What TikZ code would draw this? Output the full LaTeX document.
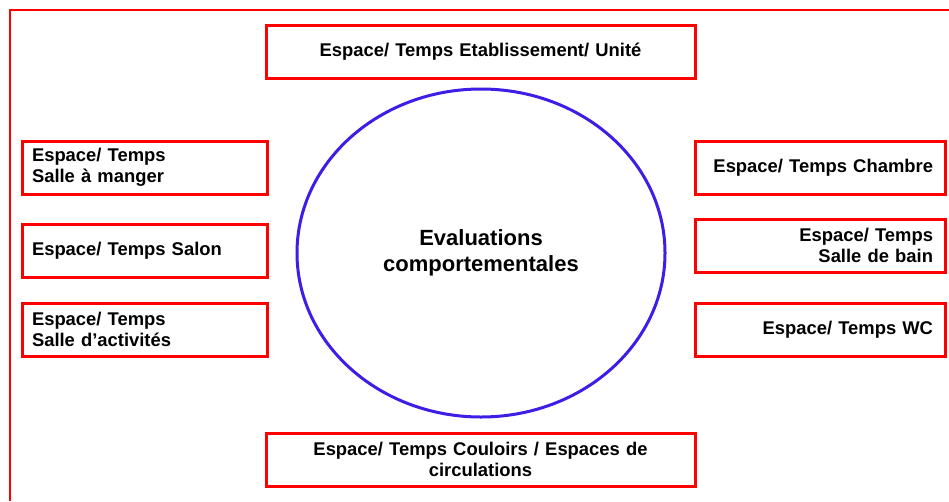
\documentclass[tikz,border=0pt]{standalone}
\usepackage{fontspec}
\setmainfont{Liberation Sans}
\usetikzlibrary{shapes.geometric}
\definecolor{boxred}{RGB}{255,0,0}
\definecolor{ellblue}{RGB}{60,30,230}
\begin{document}
\begin{tikzpicture}[x=1pt,y=-1pt,
  box/.style={draw=boxred,line width=3pt,rectangle,inner ysep=0pt,
    font=\fontsize{18.4}{20.5}\selectfont\bfseries},
  cbox/.style={box,minimum width=429pt,minimum height=53pt,text width=409pt,inner xsep=10pt,align=center},
  lbox/.style={box,minimum width=245pt,minimum height=53pt,text width=225pt,inner xsep=10pt,align=left},
  rbox/.style={box,minimum width=250pt,minimum height=53pt,text width=226pt,inner xsep=12pt,align=right},
  ell/.style={draw=ellblue,line width=3pt,ellipse,minimum width=368pt,minimum height=328pt,
    align=center,font=\fontsize{22}{26}\selectfont\bfseries}
]
\useasboundingbox (0,0) rectangle (949,501);
\coordinate (fbl) at (9.5,501);
\coordinate (ftl) at (9.5,10);
\coordinate (ftr) at (949,10);
\draw[boxred,line width=2pt] (fbl) -- (ftl) -- (ftr);

\node[ell] (center) at (481,253) {Evaluations\\comportementales};

\node[cbox] (top) at (480.5,51.5) {Espace/ Temps Etablissement/ Unité};
\node[cbox] (bottom) at (480.5,459.5) {Espace/ Temps Couloirs / Espaces de\\circulations};

\node[lbox] (l1) at (144.5,167.5) {Espace/ Temps\\Salle à manger};
\node[lbox] (l2) at (144.5,251) {Espace/ Temps Salon};
\node[lbox] (l3) at (144.5,329.5) {Espace/ Temps\\Salle d’activités};

\node[rbox] (r1) at (820,167.5) {Espace/ Temps Chambre};
\node[rbox] (r2) at (820,245.5) {Espace/ Temps\\Salle de bain};
\node[rbox] (r3) at (820,329.5) {Espace/ Temps WC};
\end{tikzpicture}
\end{document}
